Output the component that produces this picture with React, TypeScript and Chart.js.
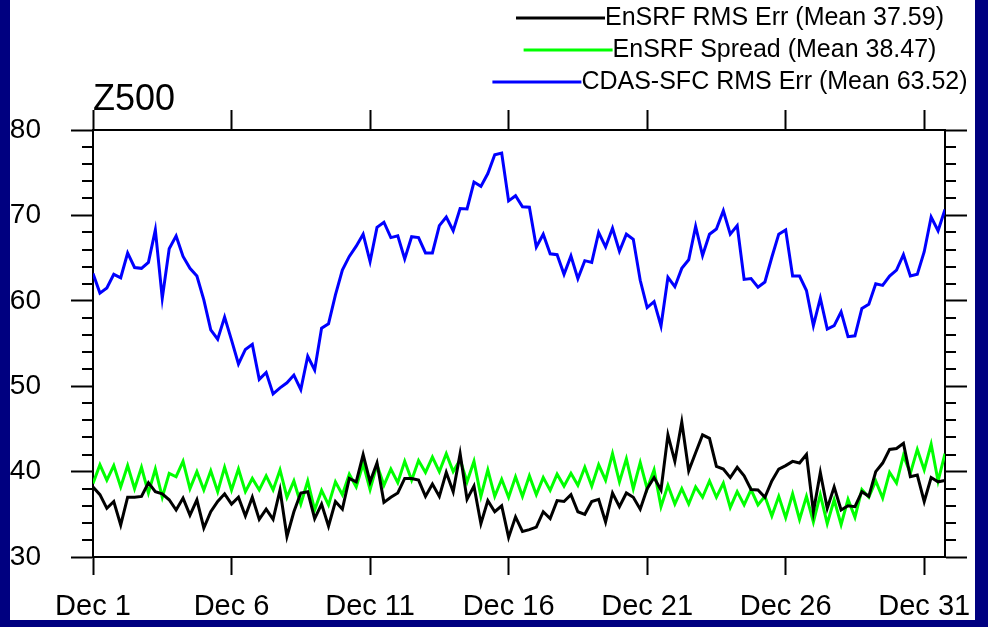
import React, { useEffect, useRef } from 'react';
import { Chart, registerables } from 'chart.js';

Chart.register(...registerables);

const chartTitle = 'Z500';
const tickLabels = ['Dec 1', 'Dec 6', 'Dec 11', 'Dec 16', 'Dec 21', 'Dec 26', 'Dec 31'];
const tickDays = [0, 5, 10, 15, 20, 25, 30];
const stepDays = 0.25; // 6-hourly samples starting Dec 1 00Z

const seriesLabels = [
  'EnSRF RMS Err (Mean 37.59)',
  'EnSRF Spread (Mean 38.47)',
  'CDAS-SFC RMS Err (Mean 63.52)',
];

const enSrfRmsErr = [
  38.2, 37.3, 35.7, 36.5, 33.75, 37.0, 37.0, 37.1, 38.7, 37.65,
  37.4, 36.7, 35.5, 36.9, 34.9, 36.7, 33.4, 35.3, 36.5, 37.4,
  36.2, 37.0, 34.8, 37.0, 34.4, 35.6, 34.4, 37.85, 32.4, 35.3,
  37.5, 37.65, 34.5, 36.2, 33.6, 36.5, 35.6, 39.2, 38.8, 42.0,
  38.8, 41.0, 36.4, 37.0, 37.5, 39.2, 39.2, 39.0, 37.1, 38.55,
  37.1, 39.9, 37.65, 42.1, 36.75, 38.3, 33.9, 36.6, 35.3, 36.0,
  32.3, 34.7, 33.0, 33.2, 33.5, 35.3, 34.5, 36.6, 36.5, 37.3,
  35.3, 35.0, 36.5, 36.75, 34.1, 37.5, 35.9, 37.5, 37.0, 35.6,
  38.0, 39.3, 37.85, 44.3, 41.2, 45.8, 40.1, 42.2, 44.3, 43.9,
  40.6, 40.3, 39.3, 40.5, 39.5, 37.9, 37.85, 37.0, 38.9, 40.3,
  40.7, 41.2, 41.0, 42.0, 35.3, 39.9, 35.7, 38.2, 35.5, 36.0,
  35.9, 37.65, 37.1, 40.0, 41.0, 42.6, 42.7, 43.3, 39.4, 39.6,
  36.5, 39.3, 38.8, 38.95,
];

const enSrfSpread = [
  38.6, 40.8, 39.0, 40.7, 38.2, 40.7, 38.0, 40.5, 37.5, 40.3,
  37.0, 39.8, 39.4, 41.2, 38.0, 40.0, 37.85, 40.1, 37.65, 40.5,
  37.85, 40.3, 37.65, 39.2, 37.85, 39.5, 37.85, 40.2, 37.0, 38.9,
  36.2, 38.9, 35.5, 37.8, 36.1, 38.8, 37.3, 39.7, 38.2, 40.9,
  37.9, 40.8, 38.4, 40.3, 38.7, 41.2, 39.0, 41.3, 39.9, 41.7,
  40.0, 42.1, 40.0, 41.4, 38.8, 41.2, 37.1, 40.2, 37.1, 39.1,
  37.0, 39.4, 37.1, 39.5, 37.3, 39.3, 37.8, 39.7, 38.3, 39.8,
  38.4, 40.5, 38.3, 40.8, 39.0, 42.1, 38.8, 41.5, 38.0, 41.05,
  38.0, 40.2, 35.9, 38.4, 36.2, 38.0, 36.2, 38.2, 37.0, 38.9,
  37.0, 38.65, 35.8, 37.65, 36.1, 37.9, 36.1, 37.1, 34.8, 37.1,
  34.6, 37.4, 34.4, 37.1, 34.1, 37.3, 33.9, 36.7, 33.8, 36.75,
  34.65, 37.9, 37.0, 38.9, 36.9, 39.9, 38.65, 41.9, 39.8, 42.6,
  40.2, 43.2, 38.9, 42.1,
];

const cdasSfcRmsErr = [
  63.2, 60.9, 61.5, 63.1, 62.7, 65.6, 63.9, 63.8, 64.5, 68.3,
  60.3, 66.1, 67.6, 65.2, 63.8, 62.9, 60.1, 56.6, 55.5, 58.1,
  55.4, 52.6, 54.3, 54.9, 50.8, 51.6, 49.1, 49.8, 50.4, 51.3,
  49.6, 53.5, 51.9, 56.8, 57.3, 60.7, 63.6, 65.2, 66.4, 67.8,
  64.6, 68.6, 69.2, 67.4, 67.6, 64.9, 67.5, 67.4, 65.6, 65.6,
  68.8, 69.8, 68.2, 70.8, 70.75, 73.9, 73.4, 74.9, 77.1, 77.3,
  71.7, 72.3, 71.0, 70.95, 66.3, 67.8, 65.5, 65.4, 63.1, 65.25,
  62.6, 64.7, 64.5, 68.0, 66.3, 68.5, 65.8, 67.8, 67.2, 62.4,
  59.2, 59.9, 57.05, 62.75, 61.65, 63.8, 64.8, 68.7, 65.3, 67.8,
  68.4, 70.55, 67.8, 68.8, 62.5, 62.6, 61.6, 62.2, 65.1, 67.8,
  68.3, 62.9, 62.9, 61.2, 57.1, 60.3, 56.7, 57.1, 58.7, 55.8,
  55.9, 59.1, 59.6, 62.0, 61.8, 62.9, 63.6, 65.4, 62.9, 63.1,
  65.75, 69.8, 68.2, 70.7,
];

const FONT = "'Liberation Sans', Arial, Helvetica, sans-serif";

const toPoints = (vals: number[]) => vals.map((v, i) => ({ x: i * stepDays, y: v }));

const framePlugin = {
  id: 'frame',
  beforeDraw(chart: any) {
    const ctx = chart.ctx;
    ctx.save();
    ctx.fillStyle = '#000080';
    ctx.fillRect(0, 0, chart.width, chart.height);
    ctx.fillStyle = '#ffffff';
    ctx.fillRect(10, 0, 965, 620);
    ctx.restore();
  },
};

const decorPlugin = {
  id: 'decor',
  afterDraw(chart: any) {
    const ctx = chart.ctx;
    const area = chart.chartArea;
    const ys = chart.scales.y;
    ctx.save();
    // minor ticks
    ctx.strokeStyle = '#000';
    ctx.lineWidth = 2;
    for (let v = ys.min; v <= ys.max; v += 2) {
      if (v % 10 === 0) continue;
      const py = Math.round(ys.getPixelForValue(v));
      ctx.beginPath();
      ctx.moveTo(area.left - 11, py);
      ctx.lineTo(area.left, py);
      ctx.moveTo(area.right, py);
      ctx.lineTo(area.right + 11, py);
      ctx.stroke();
    }
    // title
    ctx.fillStyle = '#000';
    ctx.font = `36px ${FONT}`;
    ctx.textAlign = 'left';
    ctx.textBaseline = 'alphabetic';
    ctx.fillText(chartTitle, area.left, 110);
    // legend
    const rowsY = [18, 50, 82];
    const lineLen = 89;
    const cx = 730;
    ctx.font = `25px ${FONT}`;
    ctx.textBaseline = 'middle';
    chart.data.datasets.forEach((ds: any, k: number) => {
      const w = ctx.measureText(ds.label).width;
      const x0 = cx - (lineLen + w) / 2;
      const y = rowsY[k];
      ctx.strokeStyle = ds.borderColor;
      ctx.lineWidth = 3;
      ctx.beginPath();
      ctx.moveTo(x0, y);
      ctx.lineTo(x0 + lineLen, y);
      ctx.stroke();
      ctx.fillStyle = '#000';
      ctx.fillText(ds.label, x0 + lineLen, y);
    });
    ctx.restore();
  },
};

export default function App() {
  const ref = useRef<HTMLCanvasElement | null>(null);

  useEffect(() => {
    document.body.style.margin = '0';
    if (!ref.current) return;
    const dayTicks = (scale: any) => {
      scale.ticks = tickDays.map((v) => ({ value: v }));
    };
    const xCommon = {
      type: 'linear' as const,
      min: 0,
      max: (enSrfRmsErr.length - 1) * stepDays,
      afterBuildTicks: dayTicks,
    };
    const chart = new Chart(ref.current, {
      type: 'line',
      data: {
        datasets: [
          { label: seriesLabels[0], data: toPoints(enSrfRmsErr), borderColor: '#000000', borderWidth: 3, pointRadius: 0, tension: 0 },
          { label: seriesLabels[1], data: toPoints(enSrfSpread), borderColor: '#00ff00', borderWidth: 3, pointRadius: 0, tension: 0 },
          { label: seriesLabels[2], data: toPoints(cdasSfcRmsErr), borderColor: '#0000ff', borderWidth: 3, pointRadius: 0, tension: 0 },
        ],
      },
      options: {
        animation: false,
        responsive: false,
        devicePixelRatio: 1,
        layout: { padding: 0 },
        plugins: { legend: { display: false }, tooltip: { enabled: false }, title: { display: false } },
        scales: {
          x: {
            ...xCommon,
            position: 'bottom',
            afterFit: (s: any) => { s.height = 70; },
            grid: { drawOnChartArea: false, drawTicks: true, tickLength: 18, tickWidth: 2, tickColor: '#000' },
            border: { display: true, width: 2, color: '#000' },
            ticks: {
              autoSkip: false,
              maxRotation: 0,
              padding: 15,
              color: '#000',
              font: { family: FONT, size: 29 },
              callback: (v: any) => {
                const k = tickDays.indexOf(Number(v));
                return k >= 0 ? tickLabels[k] : '';
              },
            },
          },
          x2: {
            ...xCommon,
            position: 'top',
            afterFit: (s: any) => { s.height = 130; },
            grid: { drawOnChartArea: false, drawTicks: true, tickLength: 20, tickWidth: 2, tickColor: '#000' },
            border: { display: true, width: 2, color: '#000' },
            ticks: { display: false },
          },
          y: {
            type: 'linear',
            position: 'left',
            min: 30,
            max: 80,
            afterFit: (s: any) => { s.width = 93; },
            grid: { drawOnChartArea: false, drawTicks: true, tickLength: 22, tickWidth: 2, tickColor: '#000' },
            border: { display: true, width: 2, color: '#000' },
            ticks: { stepSize: 10, padding: 30, color: '#000', font: { family: FONT, size: 28 } },
          },
          y2: {
            type: 'linear',
            position: 'right',
            min: 30,
            max: 80,
            afterFit: (s: any) => { s.width = 43; },
            grid: { drawOnChartArea: false, drawTicks: true, tickLength: 22, tickWidth: 2, tickColor: '#000' },
            border: { display: true, width: 2, color: '#000' },
            ticks: { stepSize: 10, display: false },
          },
        },
      },
      plugins: [framePlugin, decorPlugin],
    });
    return () => chart.destroy();
  }, []);

  return (
    <div style={{ width: 988, height: 627 }}>
      <canvas ref={ref} width={988} height={627} style={{ display: 'block' }} />
    </div>
  );
}
